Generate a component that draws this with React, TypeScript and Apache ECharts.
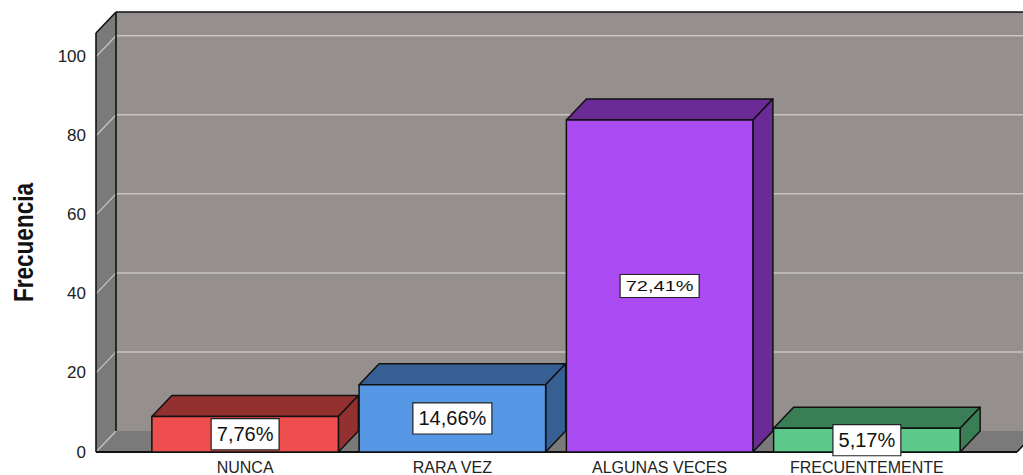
import React, { useEffect, useRef } from "react";
import * as echarts from "echarts";

const categories = ["NUNCA", "RARA VEZ", "ALGUNAS VECES", "FRECUENTEMENTE"];
const frequencies = [9, 17, 84, 6];
const yTicks = [0, 20, 40, 60, 80, 100];
const yMax = 106;
const yTitle = "Frecuencia";

// styles
const frontColors = ["#EF4E4E", "#5798E6", "#AA4BF1", "#5DCA8B"];
const darkColors = ["#933030", "#365F94", "#6B2B96", "#3A7E56"];
const labelScaleY = [1, 1, 0.74, 1];
const DX = 20;
const DY = -21;
const FONT = "Liberation Sans, Arial, sans-serif";

export default function App() {
  const ref = useRef<HTMLDivElement>(null);
  useEffect(() => {
    if (!ref.current) return;
    const chart = echarts.init(ref.current, null, { renderer: "svg" });
    const total = frequencies.reduce((a, b) => a + b, 0);
    const pctLabels = frequencies.map(
      (v) => (Math.round((v / total) * 10000) / 100).toFixed(2).replace(".", ",") + "%"
    );

    const wallsRender = (params: any, api: any) => {
      const cs = params.coordSys;
      const left = cs.x - 45.5;
      const right = cs.x + cs.width + 46.5;
      const y0 = api.coord([0, 0])[1];
      const yt = cs.y;
      const children: any[] = [];
      children.push({
        type: "rect",
        shape: { x: left + DX, y: yt + DY, width: right - left, height: y0 - yt },
        style: { fill: "#958F8E" },
      });
      children.push({
        type: "polygon",
        shape: { points: [[left, yt], [left + DX, yt + DY], [left + DX, y0 + DY], [left, y0]] },
        style: { fill: "#7A7A7A" },
      });
      children.push({
        type: "polygon",
        shape: { points: [[left, y0], [left + DX, y0 + DY], [right + DX, y0 + DY], [right, y0]] },
        style: { fill: "#7A7A7A" },
      });
      yTicks.forEach((t) => {
        const y = api.coord([0, t])[1];
        if (t > 0) {
          children.push({
            type: "line",
            shape: { x1: left + DX, y1: y + DY, x2: right + DX, y2: y + DY },
            style: { stroke: "#C9C5C4", lineWidth: 1.5 },
          });
        }
        children.push({
          type: "line",
          shape: { x1: left, y1: y, x2: left + DX, y2: y + DY },
          style: { stroke: "#C9C5C4", lineWidth: 1.2 },
        });
      });
      const blk = { stroke: "#111", lineWidth: 1.6 };
      children.push({ type: "line", shape: { x1: left + DX, y1: yt + DY, x2: right + DX + 40, y2: yt + DY }, style: blk });
      children.push({ type: "line", shape: { x1: left, y1: yt, x2: left + DX, y2: yt + DY }, style: blk });
      children.push({ type: "line", shape: { x1: left + DX, y1: yt + DY, x2: left + DX, y2: y0 + DY }, style: blk });
      children.push({ type: "line", shape: { x1: left, y1: yt, x2: left, y2: y0 }, style: blk });
      children.push({ type: "line", shape: { x1: left, y1: y0, x2: right, y2: y0 }, style: { stroke: "#111", lineWidth: 2.2 } });
      children.push({ type: "line", shape: { x1: right, y1: y0, x2: right + DX, y2: y0 + DY }, style: blk });
      return { type: "group", children };
    };

    const barsRender = (params: any, api: any) => {
      const i = api.value(0);
      const v = api.value(1);
      const top = api.coord([i, v]);
      const bot = api.coord([i, 0]);
      const w = api.size([1, 0])[0] * 0.9;
      const x1 = top[0] - w / 2;
      const x2 = top[0] + w / 2;
      const yt = top[1];
      const yb = bot[1];
      const idx = params.dataIndex;
      const edge = { stroke: "#111", lineWidth: 1.5, lineJoin: "round" };
      return {
        type: "group",
        children: [
          {
            type: "polygon",
            shape: { points: [[x1, yt], [x1 + DX, yt + DY], [x2 + DX, yt + DY], [x2, yt]] },
            style: { fill: darkColors[idx], ...edge },
          },
          {
            type: "polygon",
            shape: { points: [[x2, yt], [x2 + DX, yt + DY], [x2 + DX, yb + DY], [x2, yb]] },
            style: { fill: darkColors[idx], ...edge },
          },
          {
            type: "rect",
            shape: { x: x1, y: yt, width: w, height: yb - yt },
            style: { fill: frontColors[idx], ...edge },
          },
          {
            type: "text",
            x: top[0],
            y: (yt + yb) / 2,
            scaleY: labelScaleY[idx],
            style: {
              text: pctLabels[idx],
              fontSize: 20,
              fontFamily: FONT,
              fill: "#111",
              align: "center",
              verticalAlign: "middle",
              backgroundColor: "#FFFFFF",
              borderColor: "#222",
              borderWidth: 1.2,
              padding: [5, 5, 5, 5],
            },
          },
        ],
      };
    };

    chart.setOption({
      animation: false,
      backgroundColor: "#FFFFFF",
      grid: { left: 141.5, right: 52.5, top: 33, bottom: 23, outerBoundsMode: "none", containLabel: false },
      xAxis: {
        type: "category",
        data: categories,
        axisLine: { show: false },
        axisTick: { show: false },
        axisLabel: { fontSize: 16, color: "#222", margin: 7, fontFamily: FONT, interval: 0 },
      },
      yAxis: {
        type: "value",
        min: 0,
        max: yMax,
        interval: 20,
        offset: 45.5,
        axisLine: { show: false },
        axisTick: { show: false },
        splitLine: { show: false },
        axisLabel: {
          fontSize: 17,
          color: "#222",
          margin: 10,
          fontFamily: FONT,
          formatter: (v: number) => (yTicks.indexOf(v) >= 0 ? String(v) : ""),
        },
      },
      graphic: [
        {
          type: "text",
          x: 23,
          y: 242.5,
          rotation: Math.PI / 2,
          scaleX: 0.805,
          style: {
            text: yTitle,
            fontSize: 28,
            fontWeight: "bold",
            fontFamily: FONT,
            fill: "#111",
            align: "center",
            verticalAlign: "middle",
          },
        },
      ],
      series: [
        {
          type: "custom",
          z: 1,
          silent: true,
          data: [[0, 0]],
          renderItem: wallsRender,
        },
        {
          type: "custom",
          z: 2,
          data: frequencies.map((v, i) => [i, v]),
          renderItem: barsRender,
        },
      ],
    });
    return () => chart.dispose();
  }, []);
  return (
    <div
      ref={ref}
      style={{ position: "fixed", left: 0, top: 0, width: 1023, height: 475, background: "#fff" }}
    />
  );
}
